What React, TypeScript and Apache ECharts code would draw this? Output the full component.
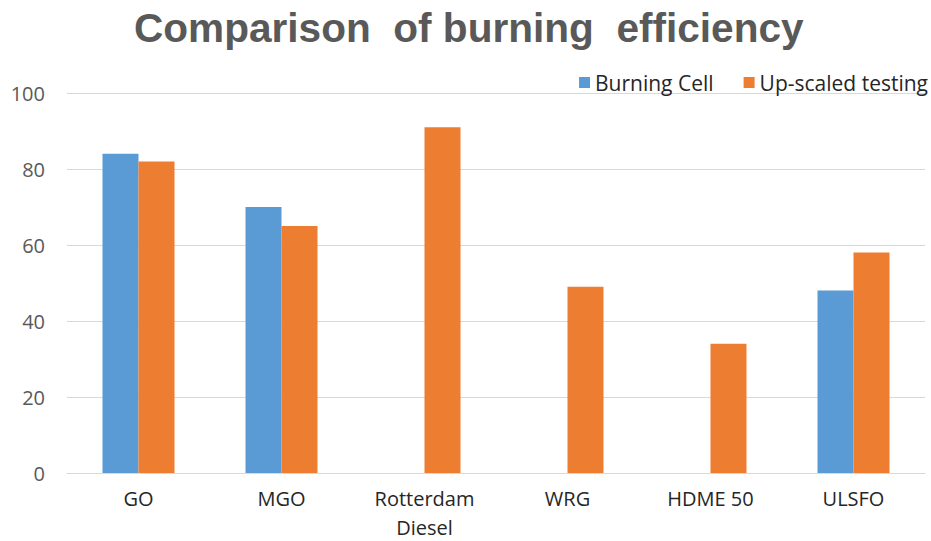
import React, { useEffect, useRef } from "react";
import * as echarts from "echarts";

const categories = ["GO", "MGO", "Rotterdam\nDiesel", "WRG", "HDME 50", "ULSFO"];
const burningCell = [84, 70, null, null, null, 48];
const upScaled = [82, 65, 91, 49, 34, 58];
const yTicks = { min: 0, max: 100, interval: 20 };

export default function App() {
  const ref = useRef<HTMLDivElement>(null);
  useEffect(() => {
    const chart = echarts.init(ref.current!, null, { renderer: "svg" });
    chart.setOption({
      animation: false,
      backgroundColor: "#ffffff",
      title: {
        text: "Comparison  of burning  efficiency",
        left: 134,
        top: 7,
        padding: 0,
        textStyle: {
          fontFamily: "Liberation Sans, Arial, sans-serif",
          fontWeight: "bold",
          fontSize: 40.6,
          color: "#595959",
        },
      },
      legend: {
        right: 3,
        top: 72,
        padding: 0,
        itemWidth: 11,
        itemHeight: 11,
        itemGap: 30,
        icon: "rect",
        textStyle: {
          fontFamily: "Open Sans, sans-serif",
          fontSize: 21,
          color: "#262626",
        },
      },
      grid: { left: 67, right: 6, top: 93, bottom: 68, outerBoundsMode: "none" },
      xAxis: {
        type: "category",
        data: categories,
        axisLine: { lineStyle: { color: "#d9d9d9", width: 1 } },
        axisTick: { show: false },
        axisLabel: {
          fontFamily: "Open Sans, sans-serif",
          fontSize: 20,
          color: "#262626",
          margin: 11,
          lineHeight: 29,
        },
      },
      yAxis: {
        type: "value",
        min: yTicks.min,
        max: yTicks.max,
        interval: yTicks.interval,
        axisLine: { show: false },
        axisTick: { show: false },
        splitLine: { lineStyle: { color: "#d9d9d9", width: 1 } },
        axisLabel: {
          fontFamily: "Open Sans, sans-serif",
          fontSize: 20,
          color: "#595959",
          margin: 22,
        },
      },
      series: [
        {
          name: "Burning Cell",
          type: "bar",
          data: burningCell,
          barWidth: 36,
          barGap: "0%",
          itemStyle: { color: "#5b9bd5" },
        },
        {
          name: "Up-scaled testing",
          type: "bar",
          data: upScaled,
          barWidth: 36,
          barGap: "0%",
          itemStyle: { color: "#ed7d31" },
        },
      ],
    });
    return () => chart.dispose();
  }, []);
  return <div ref={ref} style={{ width: 931, height: 541, position: "absolute", left: 0, top: 0 }} />;
}
